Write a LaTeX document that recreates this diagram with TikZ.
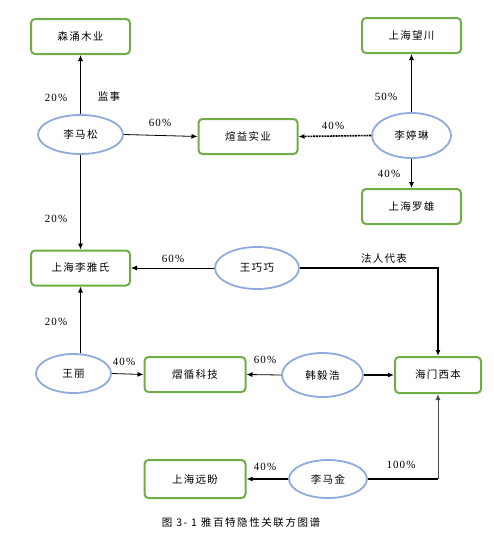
\documentclass[tikz,border=0pt]{standalone}
\usepackage{fontspec}
\newfontfamily\cjk[LetterSpace=12]{Noto Sans CJK SC}
\newfontfamily\capf[LetterSpace=15]{Noto Sans CJK SC}
\newfontfamily\numf[LetterSpace=10]{Liberation Serif}
\usetikzlibrary{arrows.meta,shapes.geometric}
\definecolor{boxgreen}{HTML}{70AD47}
\definecolor{ellblue}{HTML}{8FAADC}
\begin{document}
\begin{tikzpicture}[x=1pt,y=-1pt,
  company/.style={draw=boxgreen,line width=2pt,rounded corners=4pt,minimum width=99pt,minimum height=35pt,inner sep=0pt,font=\cjk\fontsize{10.5}{12}\selectfont},
  person/.style={draw=ellblue,line width=1.8pt,ellipse,inner sep=0pt,font=\cjk\fontsize{10.5}{12}\selectfont},
  lab/.style={inner sep=0pt,font=\numf\fontsize{11}{12}\selectfont},
  clab/.style={inner sep=0pt,font=\cjk\fontsize{10.5}{12}\selectfont},
  arr/.style={-{Latex[length=6pt,width=5pt]},line width=0.8pt},
  thickarr/.style={-{Latex[length=6pt,width=5pt]},line width=2.2pt}]
\useasboundingbox (0,0) rectangle (493,538);
% companies
\node[company] (symy) at (80.5,36.5) {森涌木业};
\node[company] (shwc) at (411.5,35.5) {上海望川};
\node[company] (xysy) at (248,136.5) {煊益实业};
\node[company] (shlx) at (411.5,206.5) {上海罗雄};
\node[company] (shlys) at (80.5,268) {上海李雅氏};
\node[company,minimum width=101pt] (yxkj) at (195,374.5) {熠循科技};
\node[company,minimum width=86pt,minimum height=36pt] (hmxb) at (438,375) {海门西本};
\node[company,minimum width=101pt,minimum height=38pt] (shyp) at (195,479) {上海远盼};
% persons
\node[person,minimum width=85pt,minimum height=39pt] (lms) at (80.5,134.5) {李马松};
\node[person,minimum width=79pt,minimum height=45pt] (ltl) at (411.5,135.5) {李婷琳};
\node[person,minimum width=84pt,minimum height=42pt] (wqq) at (257,268) {王巧巧};
\node[person,minimum width=75pt,minimum height=39pt] (wl) at (73.5,373.5) {王丽};
\node[person,minimum width=81pt,minimum height=44pt] (hyh) at (322.5,375) {韩毅浩};
\node[person,minimum width=78pt,minimum height=38pt] (lmj) at (328,479) {李马金};
% connectors
\draw[arr] (lms.north) -- (symy.south);
\draw[arr] (lms.east) -- (xysy.west);
\draw[-{Latex[length=6pt,width=5pt]},line width=1.6pt,dash pattern=on 2pt off 0.8pt] (ltl.west) -- (xysy.east);
\draw[arr] (ltl.north) -- (shwc.south);
\draw[arr] (ltl.south) -- (shlx.north);
\draw[arr] (lms.south) -- (shlys.north);
\draw[arr] (wqq.west) -- (shlys.east);
\draw[arr,line width=1.3pt] (wqq.east) -| (hmxb.north);
\draw[arr] (wl.north -| shlys) -- (shlys.south);
\draw[arr] (wl.east) -- (yxkj.west);
\draw[arr] (hyh.west) -- (yxkj.east);
\draw[thickarr] (hyh.east) -- (hmxb.west);
\draw[thickarr] (lmj.west) -- (shyp.east);
\coordinate (corner) at (lmj.east -| hmxb.south);
\draw[line width=2.2pt] (lmj.east) -- (corner);
\draw[arr,line width=1pt,black!70] (corner) -- (hmxb.south);
% labels
\node[lab] (l1) at (56,98) {20\%};
\node[clab] (l2) at (109,97) {监事};
\node[lab] (l3) at (160,123) {60\%};
\node[lab] (l4) at (333,126) {40\%};
\node[lab] (l5) at (386,97) {50\%};
\node[lab] (l6) at (389,174) {40\%};
\node[lab] (l7) at (56,219) {20\%};
\node[lab] (l8) at (173,259) {60\%};
\node[clab] (l9) at (384,259) {法人代表};
\node[lab] (l10) at (56,322) {20\%};
\node[lab] (l11) at (124,362) {40\%};
\node[lab] (l12) at (265,360) {60\%};
\node[lab] (l13) at (265,467) {40\%};
\node[lab] (l14) at (401,465) {100\%};
% caption
\node[inner sep=0pt,font=\capf\fontsize{10.5}{12}\selectfont] (cap) at (241,523) {图 3- 1 雅百特隐性关联方图谱};
\end{tikzpicture}
\end{document}
